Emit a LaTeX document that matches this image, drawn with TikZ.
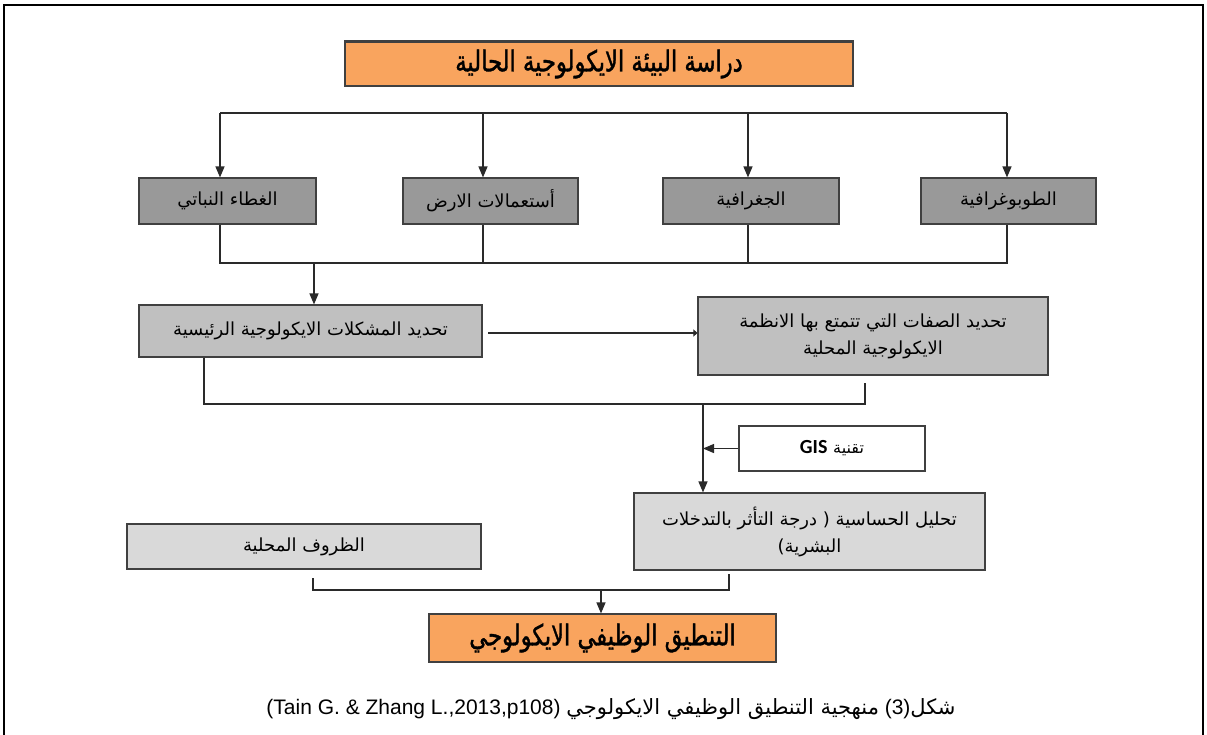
\documentclass[tikz,border=0pt]{standalone}
\usepackage{fontspec}
\usetikzlibrary{arrows.meta}
\setmainfont{Liberation Sans}
\TeXXeTstate=1
\newfontfamily\ar[Script=Arabic]{DejaVu Sans}
\newfontfamily\arn[Script=Arabic,FakeStretch=0.78,FakeBold=1.2]{DejaVu Sans}
\newfontfamily\carl{Carlito}
\definecolor{orng}{HTML}{F9A45E}
\definecolor{dgrey}{HTML}{999999}
\definecolor{mgrey}{HTML}{C0C0C0}
\definecolor{lgrey}{HTML}{D9D9D9}
\definecolor{edge}{HTML}{404040}
\definecolor{lnc}{HTML}{2A2A2A}
\begin{document}
\begin{tikzpicture}[x=1pt,y=-1pt,
  box/.style={draw=edge,line width=1.1pt,inner sep=0pt,align=center,anchor=center,
    font=\ar\fontsize{18}{27}\selectfont},
  bigbox/.style={box,fill=orng,font=\arn\fontsize{29}{34}\selectfont},
  ln/.style={draw=lnc,line width=1.3pt},
  arr/.style={-{Triangle[length=11pt,width=9pt]}},
  smallarr/.style={-{Triangle[length=4pt,width=7pt]}}]
\useasboundingbox (0,0) rectangle (1207,735);
% outer frame
\draw[line width=2.5pt,black] (4,735) -- (4,5) -- (1203,5) -- (1203,735);

% top box
\node[bigbox,minimum width=508pt,minimum height=44pt] (top) at (599,64)
  {\beginR دراسة البيئة الايكولوجية الحالية\endR};
\draw[line width=2.2pt,edge] (top.north west) -- (top.north east);

% four dark boxes
\node[box,fill=dgrey,minimum width=177pt,minimum height=46pt] (g1) at (227.5,201) {\beginR الغطاء النباتي\endR};
\node[box,fill=dgrey,minimum width=175pt,minimum height=46pt] (g2) at (490.5,201) {\beginR أستعمالات الارض\endR};
\node[box,fill=dgrey,minimum width=176pt,minimum height=46pt] (g3) at (751,201) {\beginR الجغرافية\endR};
\node[box,fill=dgrey,minimum width=175pt,minimum height=46pt] (g4) at (1008.5,201) {\beginR الطوبوغرافية\endR};

% top bus
\coordinate (t1) at (220,113);
\coordinate (t2) at (483,113);
\coordinate (t3) at (748,113);
\coordinate (t4) at (1007,113);
\draw[ln] (t1) -- (t4);
\draw[ln,arr] (t1) -- (t1 |- g1.north);
\draw[ln,arr] (t2) -- (t2 |- g2.north);
\draw[ln,arr] (t3) -- (t3 |- g3.north);
\draw[ln,arr] (t4) -- (t4 |- g4.north);

% second row
\node[box,fill=mgrey,minimum width=343pt,minimum height=52pt] (p1) at (310.5,331)
  {\beginR تحديد المشكلات الايكولوجية الرئيسية\endR};
\node[box,fill=mgrey,minimum width=350pt,minimum height=78pt] (p2) at (873,336)
  {\beginR تحديد الصفات التي تتمتع بها الانظمة\endR\\\beginR الايكولوجية المحلية\endR};

% bottom bus of dark boxes
\coordinate (b1) at (220,263);
\coordinate (b2) at (483,263);
\coordinate (b3) at (748,263);
\coordinate (b4) at (1007,263);
\coordinate (b0) at (314,263);
\draw[ln] (b1 |- g1.south) -- (b1) -- (b4) -- (b4 |- g4.south);
\draw[ln] (b2 |- g2.south) -- (b2);
\draw[ln] (b3 |- g3.south) -- (b3);
\draw[ln,arr] (b0) -- (b0 |- p1.north);

% p1 -> p2
\coordinate (a0) at (488,333);
\draw[ln,smallarr] (a0) -- (a0 -| p2.west);

% GIS and analysis
\node[box,fill=white,minimum width=186pt,minimum height=45pt] (gis) at (832,448.5)
  {{\carl\bfseries\fontsize{20}{24}\selectfont GIS} {\fontsize{16}{20}\selectfont\beginR تقنية\endR}};
\node[box,fill=lgrey,minimum width=351pt,minimum height=77pt] (p3) at (809.5,531.5)
  {\beginR درجة التأثر بالتدخلات\endR{} ( \beginR تحليل الحساسية\endR\\)\beginR البشرية\endR};

\coordinate (c1) at (204,404);
\coordinate (c2) at (865,404);
\coordinate (c2t) at (865,383);
\coordinate (c0) at (703,404);
\draw[ln] (c1 |- p1.south) -- (c1) -- (c2) -- (c2t);
\draw[ln,arr] (c0) -- (c0 |- p3.north);
\draw[ln,arr] (gis.west) -- (gis.west -| c0);

% local conditions
\node[box,fill=lgrey,minimum width=354pt,minimum height=45pt] (loc) at (304,546.5)
  {\beginR الظروف المحلية\endR};

% final box
\node[bigbox,minimum width=347pt,minimum height=48pt] (fin) at (602.5,638)
  {\beginR التنطيق الوظيفي الايكولوجي\endR};

\coordinate (d1) at (729,574);
\coordinate (d2) at (729,590);
\coordinate (d3) at (313,590);
\coordinate (d4) at (313,578);
\coordinate (d0) at (601,590);
\draw[ln] (d1) -- (d2) -- (d3) -- (d4);
\draw[ln,arr] (d0) -- (d0 |- fin.north);

% caption
\node[inner sep=0pt,font=\fontsize{21}{25}\selectfont] (cap) at (611,709)
  {(Tain G. \& Zhang L.,2013,p108) {\ar\beginR منهجية التنطيق الوظيفي الايكولوجي\endR} (3){\ar\beginR شكل\endR}};
\end{tikzpicture}
\end{document}
